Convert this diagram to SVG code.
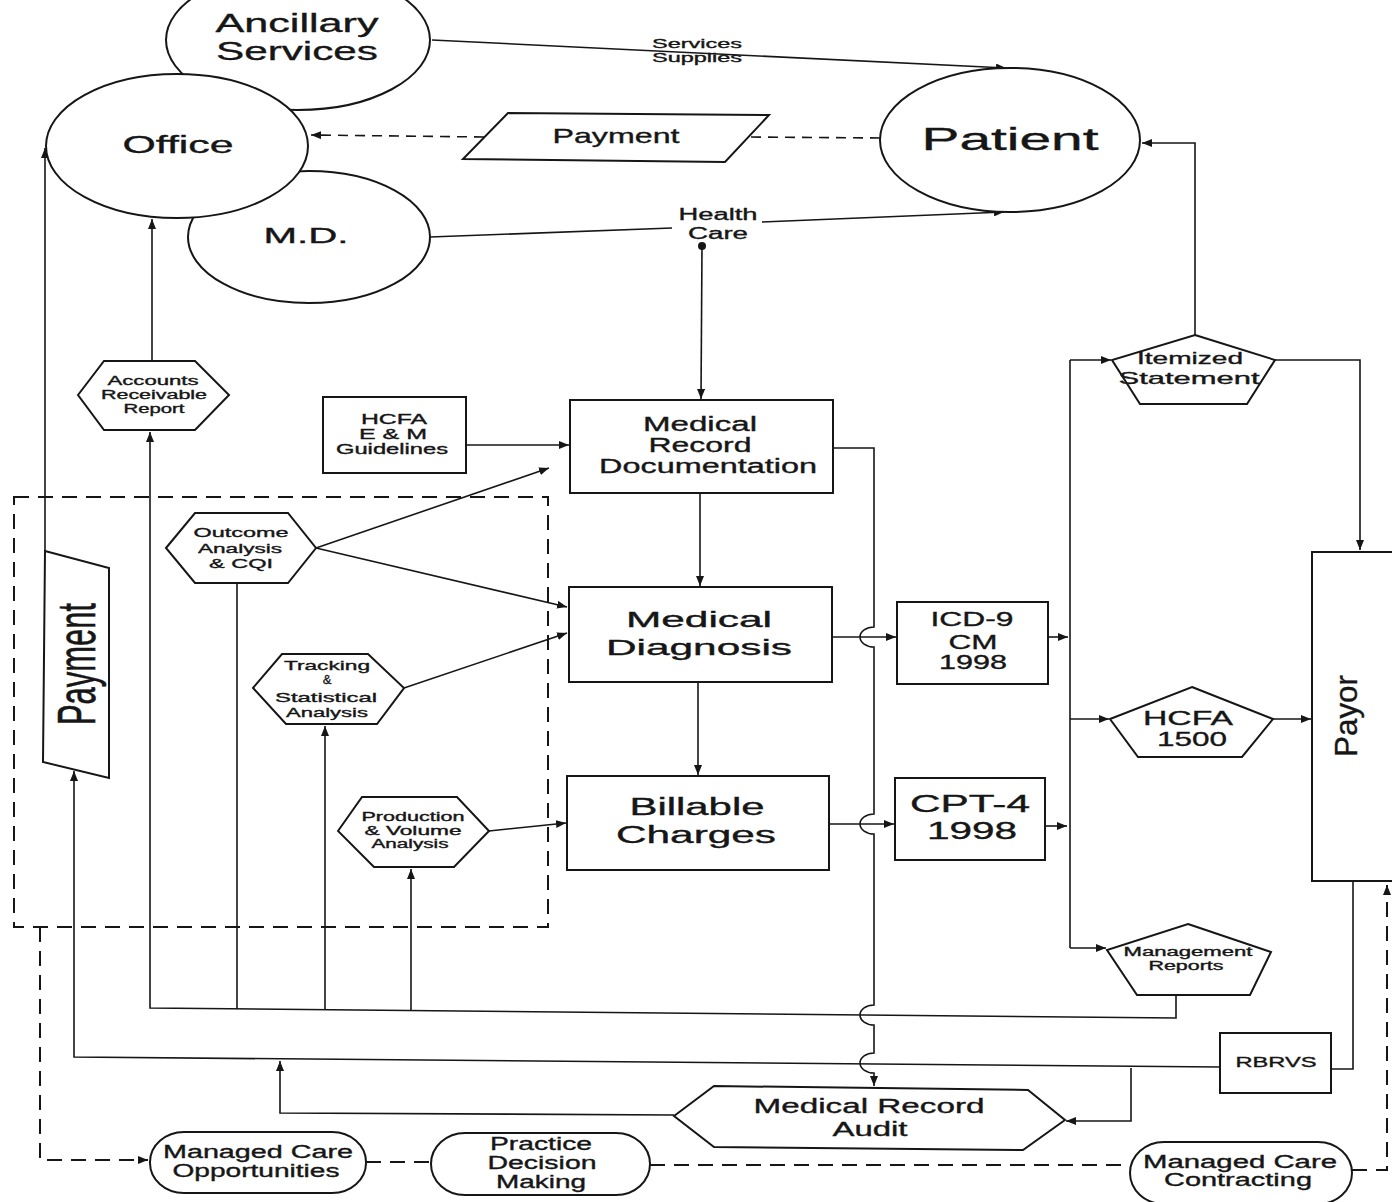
<svg xmlns="http://www.w3.org/2000/svg" width="1392" height="1202" viewBox="0 0 1392 1202">
<defs>
<marker id="a" markerUnits="userSpaceOnUse" markerWidth="10" markerHeight="8" viewBox="0 0 10 8" refX="10" refY="4" orient="auto"><path d="M0,0 L10,4 L0,8 z" fill="#161616"/></marker>
<style>
.s{fill:#fff;stroke:#161616;stroke-width:2}
.l{fill:none;stroke:#161616;stroke-width:1.6}
.d{fill:none;stroke:#161616;stroke-width:2;stroke-dasharray:15 9}
.ar{marker-end:url(#a)}
text{font-family:"Liberation Sans",Arial,sans-serif;fill:#161616;stroke:#161616;stroke-width:0.35;text-anchor:middle}
</style>
</defs>
<rect width="1392" height="1202" fill="#fff"/>

<g id="connectors">
<path class="l ar" d="M432,40 L1006,68"/>
<path class="l" d="M430,237 L672,228"/>
<path class="l ar" d="M762,222 L1004,212"/>
<path class="d" d="M880,138 L748,137" style="stroke-width:1.6;stroke-dasharray:10 7"/>
<path class="d ar" d="M484,137 L311,135" style="stroke-width:1.6;stroke-dasharray:10 7"/>
<circle cx="702" cy="246" r="4" fill="#161616"/>
<path class="l ar" d="M702,246 L701,399"/>
<path class="l ar" d="M1195,335 V143 H1142"/>
<path class="l ar" d="M466,445 H569"/>
<path class="l ar" d="M700,493 V586"/>
<path class="l ar" d="M698,682 V775"/>
<path class="l ar" d="M833,448 H874 V627 A14 10 0 0 0 874,647 V814 A14 10 0 0 0 874,834 V1005 A14 10 0 0 0 874,1025 V1053 A14 10 0 0 0 874,1073 V1086"/>
<path class="l ar" d="M832,637 H896"/>
<path class="l ar" d="M829,824 H894"/>
<path class="l ar" d="M1048,637 H1068"/>
<path class="l ar" d="M1045,826 H1067"/>
<path class="l" d="M1070,360 V948"/>
<path class="l ar" d="M1070,360 H1111"/>
<path class="l ar" d="M1070,719 H1109"/>
<path class="l ar" d="M1070,948 H1106"/>
<path class="l ar" d="M1275,360 H1360 V550"/>
<path class="l ar" d="M1273,719 H1311"/>
<path class="l" d="M1353,881 V1069 H1331"/>
<path class="l ar" d="M1220,1067 L74,1057 V771"/>
<path class="l ar" d="M1131,1068 V1121 H1066"/>
<path class="l ar" d="M674,1115 L280,1113 V1061"/>
<path class="l ar" d="M1176,995 V1018 L150,1008 V432"/>
<path class="l" d="M237,1009 V583"/>
<path class="l ar" d="M325,1010 V726"/>
<path class="l ar" d="M411,1011 V869"/>
<path class="l ar" d="M152,361 V219"/>
<path class="l ar" d="M45,551 V148"/>
<path class="l ar" d="M316,548 L549,468"/>
<path class="l ar" d="M316,548 L567,607"/>
<path class="l ar" d="M404,688 L567,633"/>
<path class="l ar" d="M489,831 L566,823"/>
<path class="d ar" d="M40,927 V1160 H148"/>
<path class="d" d="M366,1162 H431"/>
<path class="d" d="M650,1165 H1130"/>
<path class="d ar" d="M1352,1170 H1387 V885"/>
</g>

<g id="group-box"><rect class="d" x="14" y="497" width="534" height="430" style="fill:none"/></g>

<g id="ancillary"><ellipse class="s" cx="298" cy="40" rx="132" ry="70"/>
<text x="297" y="32" font-size="26" textLength="163" lengthAdjust="spacingAndGlyphs">Ancillary</text>
<text x="297" y="60" font-size="26" textLength="162" lengthAdjust="spacingAndGlyphs">Services</text></g>
<g id="md"><ellipse class="s" cx="309" cy="237" rx="121" ry="66"/>
<text x="306" y="243" font-size="22" textLength="85" lengthAdjust="spacingAndGlyphs">M.D.</text></g>
<g id="office"><ellipse class="s" cx="177" cy="146" rx="131" ry="72"/>
<text x="178" y="153" font-size="23" textLength="111" lengthAdjust="spacingAndGlyphs">Office</text></g>
<g id="patient"><ellipse class="s" cx="1010" cy="140" rx="130" ry="72"/>
<text x="1010" y="150" font-size="32" textLength="177" lengthAdjust="spacingAndGlyphs">Patient</text></g>
<g id="payment-top"><polygon class="s" points="508,113 769,115 725,162 463,159"/>
<text x="616" y="143" font-size="21" textLength="127" lengthAdjust="spacingAndGlyphs">Payment</text></g>
<g id="label-services"><text x="697" y="48" font-size="13" textLength="90" lengthAdjust="spacingAndGlyphs">Services</text>
<text x="697" y="62" font-size="13" textLength="90" lengthAdjust="spacingAndGlyphs">Supplies</text></g>
<g id="label-health"><text x="718" y="220" font-size="16" textLength="79" lengthAdjust="spacingAndGlyphs">Health</text>
<text x="718" y="239" font-size="16" textLength="60" lengthAdjust="spacingAndGlyphs">Care</text></g>

<g id="accounts"><polygon class="s" points="78,395 104,361 195,361 229,395 195,430 104,430"/>
<text x="153" y="385" font-size="12" textLength="91" lengthAdjust="spacingAndGlyphs">Accounts</text>
<text x="154" y="399" font-size="12" textLength="106" lengthAdjust="spacingAndGlyphs">Receivable</text>
<text x="154" y="413" font-size="12" textLength="61" lengthAdjust="spacingAndGlyphs">Report</text></g>
<g id="hcfa-em"><rect class="s" x="323" y="397" width="143" height="76"/>
<text x="394" y="424" font-size="14" textLength="66" lengthAdjust="spacingAndGlyphs">HCFA</text>
<text x="393" y="439" font-size="14" textLength="68" lengthAdjust="spacingAndGlyphs">E &amp; M</text>
<text x="392" y="454" font-size="14" textLength="112" lengthAdjust="spacingAndGlyphs">Guidelines</text></g>
<g id="mrd"><rect class="s" x="570" y="400" width="263" height="93"/>
<text x="700" y="431" font-size="20" textLength="114" lengthAdjust="spacingAndGlyphs">Medical</text>
<text x="700" y="452" font-size="20" textLength="103" lengthAdjust="spacingAndGlyphs">Record</text>
<text x="708" y="473" font-size="20" textLength="218" lengthAdjust="spacingAndGlyphs">Documentation</text></g>
<g id="outcome"><polygon class="s" points="166,548 195,513 288,513 316,548 288,583 195,583"/>
<text x="241" y="537" font-size="13" textLength="95" lengthAdjust="spacingAndGlyphs">Outcome</text>
<text x="240" y="553" font-size="13" textLength="84" lengthAdjust="spacingAndGlyphs">Analysis</text>
<text x="241" y="568" font-size="13" textLength="64" lengthAdjust="spacingAndGlyphs">&amp; CQI</text></g>
<g id="diagnosis"><rect class="s" x="569" y="587" width="263" height="95"/>
<text x="699" y="627" font-size="22" textLength="146" lengthAdjust="spacingAndGlyphs">Medical</text>
<text x="699" y="655" font-size="22" textLength="186" lengthAdjust="spacingAndGlyphs">Diagnosis</text></g>
<g id="tracking"><polygon class="s" points="253,688 282,654 368,654 404,688 377,724 286,724"/>
<text x="327" y="670" font-size="13" textLength="86" lengthAdjust="spacingAndGlyphs">Tracking</text>
<text x="327" y="684" font-size="13">&amp;</text>
<text x="326" y="702" font-size="13" textLength="102" lengthAdjust="spacingAndGlyphs">Statistical</text>
<text x="327" y="717" font-size="13" textLength="82" lengthAdjust="spacingAndGlyphs">Analysis</text></g>
<g id="billable"><rect class="s" x="567" y="776" width="262" height="94"/>
<text x="697" y="815" font-size="23" textLength="135" lengthAdjust="spacingAndGlyphs">Billable</text>
<text x="696" y="843" font-size="23" textLength="160" lengthAdjust="spacingAndGlyphs">Charges</text></g>
<g id="production"><polygon class="s" points="338,831 362,797 457,797 489,831 454,867 374,867"/>
<text x="413" y="821" font-size="12" textLength="103" lengthAdjust="spacingAndGlyphs">Production</text>
<text x="413" y="835" font-size="12" textLength="97" lengthAdjust="spacingAndGlyphs">&amp; Volume</text>
<text x="410" y="848" font-size="12" textLength="77" lengthAdjust="spacingAndGlyphs">Analysis</text></g>
<g id="payment-left"><polygon class="s" points="45,551 109,568 109,778 43,762"/>
<text transform="translate(95,664) scale(1.75,1) rotate(-90)" font-size="31" textLength="122" lengthAdjust="spacingAndGlyphs">Payment</text></g>
<g id="icd9"><rect class="s" x="897" y="602" width="151" height="82"/>
<text x="972" y="626" font-size="20" textLength="83" lengthAdjust="spacingAndGlyphs">ICD-9</text>
<text x="973" y="649" font-size="20" textLength="49" lengthAdjust="spacingAndGlyphs">CM</text>
<text x="973" y="669" font-size="20" textLength="68" lengthAdjust="spacingAndGlyphs">1998</text></g>
<g id="cpt4"><rect class="s" x="895" y="778" width="150" height="82"/>
<text x="970" y="812" font-size="23" textLength="120" lengthAdjust="spacingAndGlyphs">CPT-4</text>
<text x="972" y="839" font-size="23" textLength="90" lengthAdjust="spacingAndGlyphs">1998</text></g>
<g id="itemized"><polygon class="s" points="1195,335 1275,360 1247,404 1140,404 1112,360"/>
<text x="1190" y="364" font-size="17" textLength="106" lengthAdjust="spacingAndGlyphs">Itemized</text>
<text x="1189" y="384" font-size="17" textLength="141" lengthAdjust="spacingAndGlyphs">Statement</text></g>
<g id="hcfa1500"><polygon class="s" points="1192,687 1273,719 1242,757 1138,757 1110,719"/>
<text x="1188" y="725" font-size="21" textLength="90" lengthAdjust="spacingAndGlyphs">HCFA</text>
<text x="1192" y="746" font-size="21" textLength="70" lengthAdjust="spacingAndGlyphs">1500</text></g>
<g id="payor"><rect class="s" x="1312" y="552" width="100" height="329"/>
<text transform="translate(1357,716) rotate(-90)" font-size="32" textLength="82" lengthAdjust="spacingAndGlyphs">Payor</text></g>
<g id="mgmt-reports"><polygon class="s" points="1188,924 1271,952 1250,995 1137,995 1107,950"/>
<text x="1188" y="956" font-size="12" textLength="129" lengthAdjust="spacingAndGlyphs">Management</text>
<text x="1186" y="970" font-size="12" textLength="75" lengthAdjust="spacingAndGlyphs">Reports</text></g>
<g id="rbrvs"><rect class="s" x="1220" y="1033" width="111" height="60"/>
<text x="1276" y="1067" font-size="14" textLength="81" lengthAdjust="spacingAndGlyphs">RBRVS</text></g>
<g id="audit"><polygon class="s" points="674,1116 714,1086 1028,1090 1065,1120 1023,1150 714,1147"/>
<text x="869" y="1113" font-size="20" textLength="231" lengthAdjust="spacingAndGlyphs">Medical Record</text>
<text x="870" y="1136" font-size="20" textLength="75" lengthAdjust="spacingAndGlyphs">Audit</text></g>
<g id="mco"><rect class="s" x="150" y="1132" width="216" height="61" rx="34" ry="30"/>
<text x="258" y="1158" font-size="18" textLength="190" lengthAdjust="spacingAndGlyphs">Managed Care</text>
<text x="256" y="1177" font-size="18" textLength="167" lengthAdjust="spacingAndGlyphs">Opportunities</text></g>
<g id="pdm"><rect class="s" x="431" y="1133" width="219" height="62" rx="34" ry="31"/>
<text x="541" y="1150" font-size="18" textLength="102" lengthAdjust="spacingAndGlyphs">Practice</text>
<text x="542" y="1169" font-size="18" textLength="109" lengthAdjust="spacingAndGlyphs">Decision</text>
<text x="541" y="1188" font-size="18" textLength="90" lengthAdjust="spacingAndGlyphs">Making</text></g>
<g id="mcc"><rect class="s" x="1130" y="1142" width="222" height="62" rx="34" ry="31"/>
<text x="1240" y="1168" font-size="18" textLength="194" lengthAdjust="spacingAndGlyphs">Managed Care</text>
<text x="1238" y="1186" font-size="18" textLength="148" lengthAdjust="spacingAndGlyphs">Contracting</text></g>
</svg>
